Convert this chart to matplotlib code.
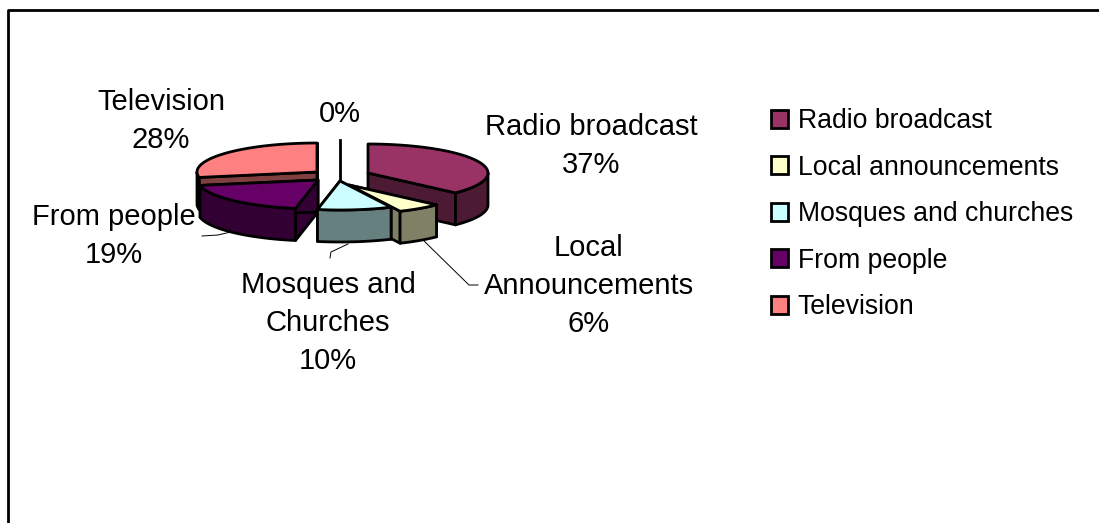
import numpy as np
import matplotlib
matplotlib.use("Agg")
import matplotlib.pyplot as plt
from matplotlib.patches import Polygon, Patch

plt.rcParams['font.family'] = ['Liberation Sans', 'DejaVu Sans']

legend_names = ["Radio broadcast", "Local announcements", "Mosques and churches", "From people", "Television"]
label_names = ["Radio broadcast", "Local\nAnnouncements", "Mosques and\nChurches", "From people", "Television"]
values = [37, 6, 10, 19, 28]
zero_label = "0%"
top_colors = ["#993366", "#FFFFCC", "#CCFFFF", "#660066", "#FF8080"]
side_colors = ["#4D1A33", "#808066", "#668080", "#330033", "#804040"]

# pie geometry, in pixels
rx, ry = 120, 29
depth = 32
# where each exploded slice has its tip
tips = [(368, 173), (349, 185), (340, 181), (318, 180), (317, 172)]
label_pos = [(591, 146), (589, 286), (328, 323), (114, 236), (161, 121)]


def pt(theta, ox, oy):
    t = np.radians(theta)
    return ox + rx * np.sin(t), oy - ry * np.cos(t)


def draw_slice(start, end, tip, top, side, z):
    ox, oy = tip
    th = np.linspace(start, end, 60)
    xs, ys = pt(th, ox, oy)
    outline = dict(edgecolor="black", linewidth=2, joinstyle="round", zorder=z)
    # radial side walls
    for a in (start, end):
        x1, y1 = pt(a, ox, oy)
        ax.add_patch(Polygon([(ox, oy), (x1, y1), (x1, y1 + depth), (ox, oy + depth)],
                             facecolor=side, **outline))
    # outer wall, only the front part shows
    front = th[(th > 90) & (th < 270)]
    if len(front) > 1:
        fx, fy = pt(front, ox, oy)
        wall = list(zip(fx, fy)) + list(zip(fx[::-1], fy[::-1] + depth))
        ax.add_patch(Polygon(wall, facecolor=side, **outline))
    ax.add_patch(Polygon([(ox, oy)] + list(zip(xs, ys)), facecolor=top, **outline))


fig = plt.figure(figsize=(10.99, 5.23), dpi=100)
ax = fig.add_axes([0, 0, 1, 1])
ax.set_xlim(0, 1099)
ax.set_ylim(523, 0)
ax.axis("off")

# chart frame, only top and left edges are in the picture
ax.plot([8, 8, 1099], [523, 10, 10], color="black", lw=2)

bounds = np.concatenate([[0], np.cumsum(values)]) / sum(values) * 360
# back slices first so the near ones cover them
order = [4, 0, 3, 1, 2]
for z, i in enumerate(order):
    draw_slice(bounds[i], bounds[i + 1], tips[i], top_colors[i], side_colors[i], 3 + z)

# the zero slice is only a line
ax.plot([340, 340], [140, 183], color="black", lw=2, zorder=2)

# leader lines
ax.plot([202, 218, 235], [236, 235, 231], color="black", lw=0.7, zorder=1)
ax.plot([330, 331, 348], [258, 252, 244], color="black", lw=0.7, zorder=1)
ax.plot([421, 469, 478], [238, 285, 285], color="black", lw=0.7, zorder=1)

for name, val, (x, y) in zip(label_names, values, label_pos):
    ax.text(x, y, f"{name}\n{val}%", fontsize=21, ha="center", va="center", linespacing=1.47, zorder=20)
ax.text(340, 114, zero_label, fontsize=21, ha="center", va="center")

handles = [Patch(facecolor=c, edgecolor="black", linewidth=2) for c in top_colors]
ax.legend(handles, legend_names, loc="upper left", bbox_to_anchor=(771 / 1099, 1 - 108 / 523),
          frameon=False, fontsize=19.2, labelspacing=0.77, handlelength=0.65, handleheight=0.65,
          handletextpad=0.35, borderpad=0, borderaxespad=0)

fig.savefig("out.png", dpi=100)
